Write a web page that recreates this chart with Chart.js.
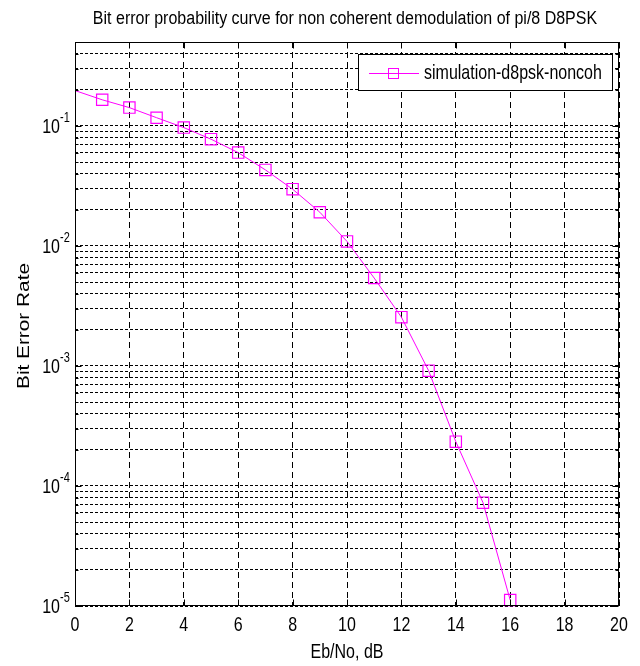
<!DOCTYPE html>
<html>
<head>
<meta charset="utf-8">
<script src="https://cdn.jsdelivr.net/npm/chart.js@4.4.1/dist/chart.umd.min.js"></script>
<style>
html, body { margin: 0; padding: 0; background: #fff; }
</style>
</head>
<body>
<canvas id="ber-curve" width="640" height="666"></canvas>
<script>
// values
var ebno = [0, 1, 2, 3, 4, 5, 6, 7, 8, 9, 10, 11, 12, 13, 14, 15, 16];
var ber = [0.197, 0.165, 0.142, 0.117, 0.0968, 0.0775, 0.0599, 0.0430, 0.0297, 0.0191,
           0.0109, 0.0054, 0.00255, 9.14e-4, 2.34e-4, 7.26e-5, 1.12e-5];
var xTicks = [0, 2, 4, 6, 8, 10, 12, 14, 16, 18, 20];
var yDecades = [1e-5, 1e-4, 1e-3, 1e-2, 1e-1];
var yDecadeExp = ['-5', '-4', '-3', '-2', '-1'];
var yMin = 1e-5, yMax = 0.5;

var titleText = 'Bit error probability curve for non coherent demodulation of pi/8 D8PSK';
var xTitle = 'Eb/No, dB';
var yTitle = 'Bit Error Rate';

var FONT = '"Liberation Sans", Arial, sans-serif';
var STRETCH = 1.3; // the reference picture is stretched vertically

// 1..9 x every decade, up to yMax (grid lines)
var yGrid = [];
yDecades.forEach(function (d) {
    for (var m = 1; m <= 9; m++) {
        if (m * d <= yMax * 1.0001) yGrid.push(m * d);
    }
});

function text(ctx, str, x, y, size, align, baseline, rot, sy) {
    ctx.save();
    ctx.translate(x, y);
    if (rot) {
        ctx.rotate(rot);
        ctx.scale(sy || STRETCH, 1);
    } else {
        ctx.scale(1, sy || STRETCH);
    }
    ctx.font = size + 'px ' + FONT;
    ctx.fillStyle = '#000';
    ctx.textAlign = align;
    ctx.textBaseline = baseline;
    ctx.fillText(str, 0, 0);
    ctx.restore();
}

var matlabLook = {
    id: 'matlabLook',
    afterDraw: function (chart) {
        var ctx = chart.ctx, a = chart.chartArea;
        var xs = chart.scales.x, ys = chart.scales.y;
        var L = Math.round(a.left) + 0.5, R = Math.round(a.right) - 0.5;
        var T = Math.round(a.top) + 0.5, B = Math.round(a.bottom) - 0.5;
        ctx.save();
        ctx.strokeStyle = '#000';
        ctx.lineWidth = 1;
        ctx.setLineDash([]);

        // inner tick marks
        ctx.beginPath();
        xTicks.forEach(function (v) {
            var px = Math.round(xs.getPixelForValue(v)) + 0.5;
            ctx.moveTo(px, B); ctx.lineTo(px, B - 6);
            ctx.moveTo(px, T); ctx.lineTo(px, T + 6);
        });
        yGrid.forEach(function (v) {
            var py = Math.round(ys.getPixelForValue(v)) + 0.5;
            var len = yDecades.indexOf(v) >= 0 ? 6 : 3;
            ctx.moveTo(L, py); ctx.lineTo(L + len, py);
            ctx.moveTo(R, py); ctx.lineTo(R - len, py);
        });
        ctx.stroke();

        // axes box
        ctx.strokeRect(L, T, R - L, B - T);

        // tick labels
        xTicks.forEach(function (v) {
            text(ctx, String(v), xs.getPixelForValue(v), 625, 16, 'center', 'middle');
        });
        yDecades.forEach(function (v, i) {
            var py = ys.getPixelForValue(v);
            text(ctx, '10', 60, py + 1, 16, 'right', 'middle');
            text(ctx, yDecadeExp[i], 60, py - 4, 11, 'left', 'alphabetic');
        });

        // titles
        text(ctx, titleText, (a.left + a.right) / 2 - 2, 19, 16, 'center', 'middle', 0, 1.15);
        text(ctx, xTitle, (a.left + a.right) / 2, 652, 16, 'center', 'middle');
        text(ctx, yTitle, 25, (a.top + a.bottom) / 2 + 2, 16, 'center', 'middle', -Math.PI / 2);

        // legend
        var ds = chart.data.datasets[0];
        var bx = 358.5, by = 54.5, bw = 254, bh = 36;
        ctx.fillStyle = '#fff';
        ctx.fillRect(bx, by, bw, bh);
        ctx.strokeStyle = '#000';
        ctx.strokeRect(bx, by, bw, bh);
        var ly = Math.round(by + bh / 2) + 0.5;
        ctx.strokeStyle = ds.borderColor;
        ctx.beginPath();
        ctx.moveTo(369, ly); ctx.lineTo(419, ly);
        ctx.stroke();
        ctx.strokeRect(388.5, ly - 5, 10, 10);
        text(ctx, ds.label, 424, ly, 16, 'left', 'middle');
        ctx.restore();
    }
};

new Chart(document.getElementById('ber-curve'), {
    type: 'line',
    data: {
        datasets: [{
            label: 'simulation-d8psk-noncoh',
            data: ebno.map(function (x, i) { return { x: x, y: ber[i] }; }),
            borderColor: '#ff00ff',
            borderWidth: 1,
            pointStyle: 'rect',
            pointRadius: ebno.map(function (x) { return x === 0 ? 0 : 8; }),
            pointBorderColor: '#ff00ff',
            pointBackgroundColor: 'rgba(0,0,0,0)',
            pointBorderWidth: 1.2,
            tension: 0,
            clip: 6
        }]
    },
    options: {
        responsive: false,
        animation: false,
        events: [],
        devicePixelRatio: 1,
        layout: { padding: { top: 42, right: 21, left: 0, bottom: 0 } },
        plugins: { legend: { display: false }, title: { display: false }, tooltip: { enabled: false } },
        scales: {
            x: {
                type: 'linear',
                min: 0,
                max: 20,
                afterBuildTicks: function (s) { s.ticks = xTicks.map(function (v) { return { value: v }; }); },
                afterFit: function (s) { s.height = 60; },
                ticks: { display: false },
                grid: { color: '#000', lineWidth: 1, drawTicks: false },
                border: { display: false, dash: [6, 4] }
            },
            y: {
                type: 'logarithmic',
                min: yMin,
                max: yMax,
                afterBuildTicks: function (s) { s.ticks = yGrid.map(function (v) { return { value: v }; }); },
                afterFit: function (s) { s.width = 75; },
                ticks: { display: false },
                grid: { color: '#000', lineWidth: 1, drawTicks: false },
                border: { display: false, dash: [3, 2] }
            }
        }
    },
    plugins: [matlabLook]
});
</script>
</body>
</html>
